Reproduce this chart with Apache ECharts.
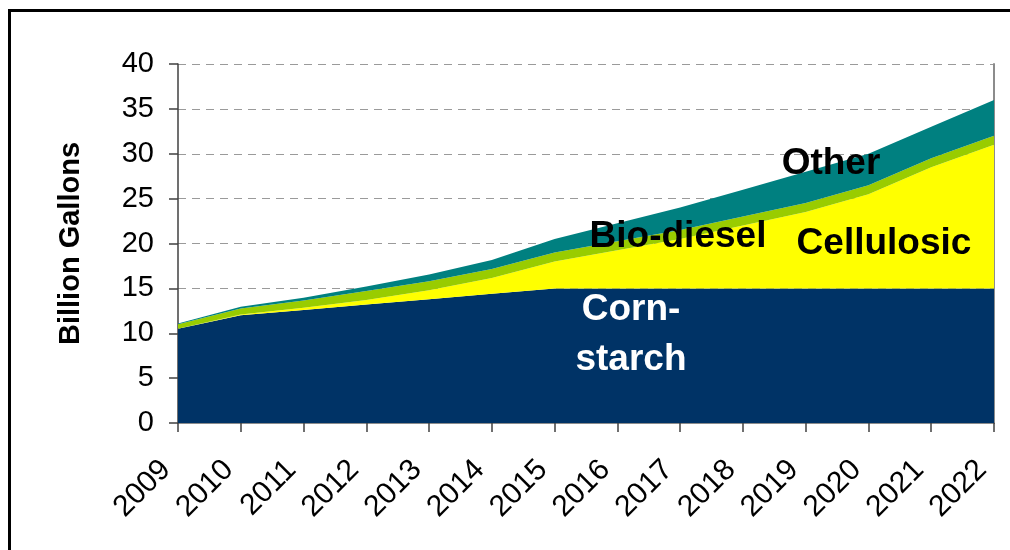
<!DOCTYPE html>
<html>
<head>
<meta charset="utf-8">
<script src="https://cdn.jsdelivr.net/npm/echarts@6/dist/echarts.min.js"></script>
<style>
html,body{margin:0;padding:0;background:#fff;}
#chart{width:1010px;height:550px;}
</style>
</head>
<body>
<div id="chart"></div>
<script>
const years = ['2009','2010','2011','2012','2013','2014','2015','2016','2017','2018','2019','2020','2021','2022'];
const cornStarch = [10.5, 12.0, 12.6, 13.2, 13.8, 14.4, 15.0, 15.0, 15.0, 15.0, 15.0, 15.0, 15.0, 15.0];
const cellulosic = [0, 0.1, 0.25, 0.5, 1.0, 1.75, 3.0, 4.25, 5.5, 7.0, 8.5, 10.5, 13.5, 16.0];
const bioDiesel  = [0.5, 0.65, 0.8, 1.0, 1.0, 1.0, 1.0, 1.0, 1.0, 1.0, 1.0, 1.0, 1.0, 1.0];
const other      = [0.1, 0.2, 0.3, 0.5, 0.75, 1.0, 1.5, 2.0, 2.5, 3.0, 3.5, 3.5, 3.5, 4.0];
const yTicks = [0, 5, 10, 15, 20, 25, 30, 35, 40];

const FONT = "'Liberation Sans', Arial, Helvetica, sans-serif";
const chart = echarts.init(document.getElementById('chart'), null, {renderer: 'canvas'});

function areaSeries(name, data, color) {
  return {
    name: name, type: 'line', stack: 'total', data: data,
    symbol: 'none', showSymbol: false, smooth: false,
    lineStyle: {width: 0, color: color},
    itemStyle: {color: color},
    areaStyle: {color: color, opacity: 1},
    emphasis: {disabled: true},
    silent: true
  };
}

chart.setOption({
  animation: false,
  backgroundColor: '#ffffff',
  grid: {left: 178, right: 16, top: 64, bottom: 127, containLabel: false},
  xAxis: [{
    type: 'category', data: years, boundaryGap: false,
    axisLine: {show: true, lineStyle: {color: '#000', width: 1.5}},
    axisTick: {show: true, alignWithLabel: true, length: 9, lineStyle: {color: '#404040', width: 1.5}},
    axisLabel: {rotate: 45, fontSize: 30, margin: 30, padding: [0, 17, 0, 0], color: '#000', fontFamily: FONT, interval: 0},
    splitLine: {show: false}
  }, {
    type: 'category', data: years, boundaryGap: false, position: 'top',
    axisLine: {show: true, lineStyle: {color: '#8c8c8c', width: 2}},
    axisTick: {show: false}, axisLabel: {show: false}, splitLine: {show: false}
  }],
  yAxis: [{
    type: 'value', min: yTicks[0], max: yTicks[yTicks.length - 1], interval: 5,
    name: 'Billion Gallons', nameLocation: 'middle', nameGap: 93,
    nameTextStyle: {fontSize: 29, fontWeight: 'bold', color: '#000', fontFamily: FONT},
    axisLine: {show: true, lineStyle: {color: '#404040', width: 1.5}},
    axisTick: {show: true, length: 9, lineStyle: {color: '#404040', width: 1.5}},
    axisLabel: {fontSize: 29, margin: 24, color: '#000', fontFamily: FONT},
    splitLine: {show: true, lineStyle: {color: '#9a9a9a', width: 1, type: [8, 6]}}
  }, {
    type: 'value', min: 0, max: 40, interval: 5, position: 'right',
    axisLine: {show: true, lineStyle: {color: '#8c8c8c', width: 2}},
    axisTick: {show: false}, axisLabel: {show: false}, splitLine: {show: false}
  }],
  series: [
    areaSeries('Corn-starch', cornStarch, '#003366'),
    areaSeries('Cellulosic', cellulosic, '#ffff00'),
    areaSeries('Bio-diesel', bioDiesel, '#99cc00'),
    areaSeries('Other', other, '#008080')
  ],
  graphic: [
    {type: 'rect', shape: {x: 9.5, y: 10.5, width: 1020, height: 560},
     style: {fill: 'none', stroke: '#000', lineWidth: 3}, silent: true, z: 100},
    {type: 'text', x: 631, y: 335, z: 100,
     style: {text: 'Corn-\nstarch', fill: '#fff', font: 'bold 37px ' + FONT, textAlign: 'center', textVerticalAlign: 'middle', lineHeight: 50}},
    {type: 'text', x: 678, y: 237, z: 100,
     style: {text: 'Bio-diesel', fill: '#000', font: 'bold 37px ' + FONT, textAlign: 'center', textVerticalAlign: 'middle'}},
    {type: 'text', x: 884, y: 244, z: 100,
     style: {text: 'Cellulosic', fill: '#000', font: 'bold 37px ' + FONT, textAlign: 'center', textVerticalAlign: 'middle'}},
    {type: 'text', x: 831, y: 164, z: 100,
     style: {text: 'Other', fill: '#000', font: 'bold 37px ' + FONT, textAlign: 'center', textVerticalAlign: 'middle'}}
  ]
});
</script>
</body>
</html>
